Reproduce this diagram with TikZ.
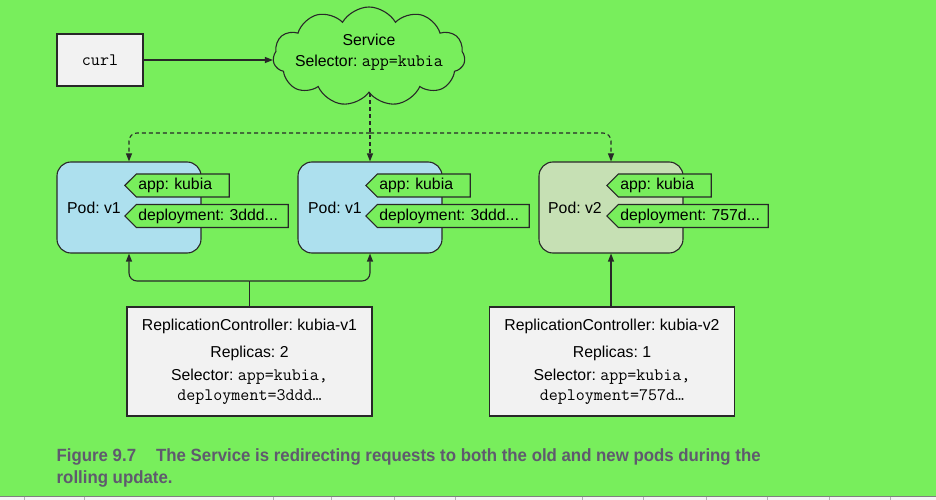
\documentclass[tikz,border=0pt]{standalone}
\usepackage{fontspec}
\setmainfont{Liberation Sans}
\newfontfamily\capfont[FakeStretch=0.95]{Liberation Sans}
\usetikzlibrary{shapes.symbols,arrows.meta}
\definecolor{bg}{RGB}{120,238,92}
\definecolor{podblue}{RGB}{173,224,238}
\definecolor{podgreen}{RGB}{198,224,180}
\definecolor{boxgrey}{RGB}{242,242,242}
\definecolor{linec}{RGB}{40,40,40}
\definecolor{capc}{RGB}{95,90,110}
\newcommand\mymono[1]{{\fontsize{17.5bp}{19bp}\ttfamily #1}}
\frenchspacing
\begin{document}
\begin{tikzpicture}[x=1bp,y=-1bp,
  every node/.style={font=\fontsize{15.8bp}{20bp}\selectfont, text=black},
  podbox/.style={draw=linec, line width=1.1bp, rounded corners=14bp, minimum width=144bp, minimum height=91bp},
  tagbox/.style={shape=signal, signal to=west, signal pointer angle=90, draw=linec, fill=bg, line width=1.1bp, minimum height=23bp, inner xsep=2bp, inner ysep=0pt, align=left, anchor=west},
  rcbox/.style={draw=linec, fill=boxgrey, line width=1.1bp, minimum width=245bp, minimum height=109bp, align=center, inner sep=0pt},
  conn/.style={draw=linec, line width=1.1bp, -{Triangle[length=8bp,width=6bp]}},
  dconn/.style={conn, dash pattern=on 4bp off 3bp},
  plainline/.style={draw=linec, line width=1.1bp},
  captext/.style={anchor=base west, inner sep=0pt, font=\capfont\bfseries\fontsize{17.7bp}{22bp}\selectfont, text=capc}
]
\useasboundingbox (0,0) rectangle (936,500);
\fill[bg] (0,0) rectangle (936,500);

% curl and service
\node[draw=linec, fill=boxgrey, line width=1.1bp, minimum width=86bp, minimum height=52bp] (curl) at (100,60) {\mymono{curl}};
\node[cloud, cloud puffs=11, cloud puff arc=120, cloud ignores aspect, draw=linec, fill=bg, line width=1.1bp, minimum width=192bp, minimum height=99bp, inner sep=0pt] (svc) at (369,56.5) {};
\node[align=center] (svct) at (369,52.5) {Service\\[1bp]Selector: \mymono{app=kubia}};
\draw[conn] (curl.east) -- (curl.east -| svc.west);

% pods
\node[podbox, fill=podblue] (pod1) at (129,207.5) {};
\node[podbox, fill=podblue] (pod2) at (370,207.5) {};
\node[podbox, fill=podgreen] (pod3) at (611,207.5) {};
\node[anchor=west, inner sep=0pt] (pod1t) at (67,208) {Pod: v1};
\node[anchor=west, inner sep=0pt] (pod2t) at (308,208) {Pod: v1};
\node[anchor=west, inner sep=0pt] (pod3t) at (548,208) {Pod: v2};
\node[tagbox, text width=89bp] (pod1a) at (124,185.5) {app: kubia};
\node[tagbox, text width=148bp] (pod1d) at (124,216) {deployment: 3ddd...};
\node[tagbox, text width=89bp] (pod2a) at (365,185.5) {app: kubia};
\node[tagbox, text width=148bp] (pod2d) at (365,216) {deployment: 3ddd...};
\node[tagbox, text width=89bp] (pod3a) at (606,185.5) {app: kubia};
\node[tagbox, text width=146bp] (pod3d) at (606,216) {deployment: 757d...};

% dashed service connectors
\coordinate (sj) at (370,133);
\draw[dconn] (svc.south -| pod2.north) -- (pod2.north);
\draw[dconn, rounded corners=8bp] (sj) -| (pod1.north);
\draw[dconn, rounded corners=8bp] (sj) -| (pod3.north);

% replication controllers
\node[rcbox] (rc1) at (249.5,361.5) {ReplicationController: kubia-v1\\[7bp]Replicas: 2\\[3bp]Selector: \mymono{app=kubia,}\\\mymono{deployment=3ddd…}};
\node[rcbox] (rc2) at (612,361.5) {ReplicationController: kubia-v2\\[7bp]Replicas: 1\\[3bp]Selector: \mymono{app=kubia,}\\\mymono{deployment=757d…}};

\coordinate (rj) at (249.5,281);
\draw[plainline] (rc1.north) -- (rj);
\draw[conn, rounded corners=8bp] (rj) -| (pod1.south);
\draw[conn, rounded corners=8bp] (rj) -| (pod2.south);
\draw[conn] (rc2.north -| pod3.south) -- (pod3.south);

% caption
\node[captext] (cap1) at (56.5,461) {Figure 9.7\hspace*{20bp}The Service is redirecting requests to both the old and new pods during the};
\node[captext] (cap2) at (56.5,483) {rolling update.};

% page strip at bottom
\fill[white!92!gray] (0,496.5) rectangle (936,500);
\draw[gray, line width=1bp] (0,496.5) -- (936,496.5);
\foreach \x in {24,84,273,331,394,455,582,643,706,767,829,890}
  \draw[gray!60, line width=0.6bp] (\x,496.5) -- (\x,500);
\end{tikzpicture}
\end{document}
